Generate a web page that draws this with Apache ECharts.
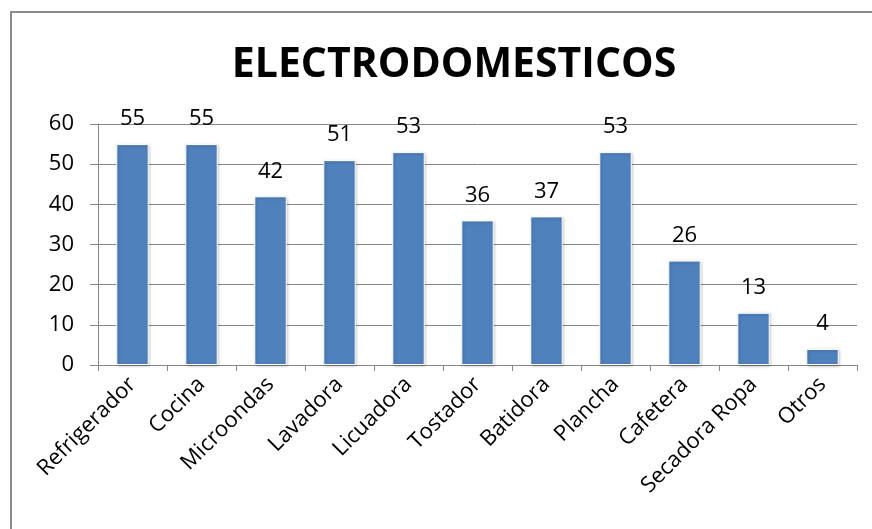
<!DOCTYPE html>
<html>
<head>
<meta charset="utf-8">
<script src="https://cdn.jsdelivr.net/npm/echarts@6/dist/echarts.min.js"></script>
<style>
  html, body { margin: 0; padding: 0; background: #fff; }
  #frame { position: absolute; left: 10px; top: 11px; width: 900px; height: 560px;
           border: 2px solid #8c8c8c; box-sizing: border-box; }
  #chart { position: absolute; left: 0; top: 0; width: 872px; height: 529px; }
</style>
</head>
<body>
<div id="frame"></div>
<div id="chart"></div>
<script>
// Appliance counts per category
const categories = ['Refrigerador', 'Cocina', 'Microondas', 'Lavadora', 'Licuadora',
  'Tostador', 'Batidora', 'Plancha', 'Cafetera', 'Secadora Ropa', 'Otros'];
const values = [55, 55, 42, 51, 53, 36, 37, 53, 26, 13, 4];
const yTicks = [0, 10, 20, 30, 40, 50, 60];

const FONT = "'Open Sans', 'Noto Sans', sans-serif";
const chart = echarts.init(document.getElementById('chart'), null, { renderer: 'canvas' });

chart.setOption({
  animation: false,
  title: {
    text: 'ELECTRODOMESTICOS',
    left: 449, top: 40, textAlign: 'center',
    textStyle: { fontFamily: FONT, fontWeight: 'bold', fontSize: 41, color: '#000' }
  },
  grid: { left: 98, right: 15, top: 124, bottom: 164, containLabel: false },
  xAxis: {
    type: 'category',
    data: categories,
    axisLine: { lineStyle: { color: '#868686', width: 1 } },
    axisTick: { show: true, length: 6, lineStyle: { color: '#868686' } },
    axisLabel: {
      rotate: 45, margin: 16, interval: 0,
      fontFamily: FONT, fontSize: 22, color: '#000'
    }
  },
  yAxis: {
    type: 'value',
    min: yTicks[0], max: yTicks[yTicks.length - 1], interval: 10,
    axisLine: { show: true, lineStyle: { color: '#868686' } },
    axisTick: { show: true, length: 8, inside: false, lineStyle: { color: '#868686' } },
    splitLine: { lineStyle: { color: '#868686', width: 1 } },
    axisLabel: { margin: 24, fontFamily: FONT, fontSize: 22, color: '#000' }
  },
  series: [{
    type: 'bar',
    data: values,
    barWidth: '47%',
    itemStyle: {
      color: '#4F81BD',
      borderColor: '#ffffff', borderWidth: 1,
      shadowColor: 'rgba(0,0,0,0.25)', shadowBlur: 3, shadowOffsetX: 1, shadowOffsetY: 1
    },
    label: {
      show: true, position: 'top', distance: 14,
      fontFamily: FONT, fontSize: 22, color: '#000'
    }
  }]
});
</script>
</body>
</html>
